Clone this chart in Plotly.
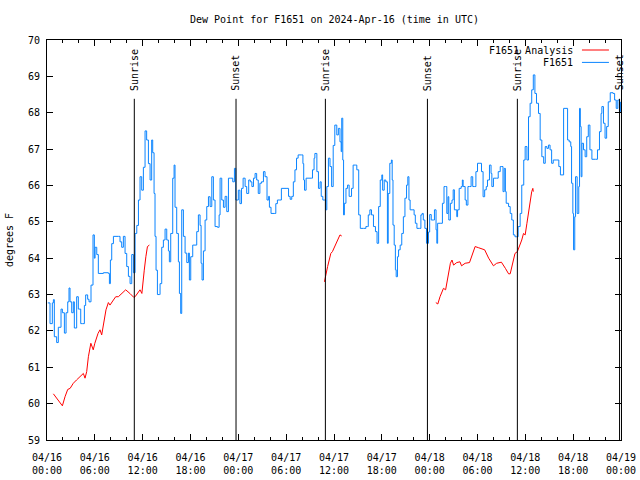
import pandas as pd
import plotly.graph_objects as go

BASE = pd.Timestamp("2024-04-16 00:00")

# Observed dew point (F1651), hours since 2024-04-16 00:00 UTC
obs_hours = [0.1, 0.38, 0.67, 0.8, 0.92, 1.21, 1.42, 1.76, 1.93, 2.18, 2.39, 2.6, 2.76, 2.89, 3.1, 3.3,
             3.43, 3.72, 3.93, 4.23, 4.44, 4.69, 4.85, 5.1, 5.27, 5.52, 5.77, 5.94, 6.03, 6.24, 6.44,
             7.07, 7.7, 7.83, 7.95, 8.12, 8.33, 8.95, 9.16, 9.37, 9.58, 9.79, 10.0, 10.21, 10.42, 10.63,
             10.84, 11.05, 11.26, 11.47, 11.67, 11.88, 12.09, 12.3, 12.5, 12.72, 12.93, 13.13, 13.26,
             13.43, 13.55, 13.68, 13.85, 14.1, 14.18, 14.39, 14.6, 14.81, 15.02, 15.23, 15.35, 15.52,
             15.77, 15.94, 16.06, 16.27, 16.48, 16.61, 16.77, 16.9, 17.11, 17.32, 17.53, 17.74, 17.86,
             18.03, 18.28, 18.57, 18.78, 18.99, 19.2, 19.33, 19.45, 19.62, 19.83, 20.04, 20.25, 20.46,
             20.67, 20.87, 21.08, 21.38, 21.59, 21.71, 21.92, 22.13, 22.34, 22.55, 22.76, 23.05, 23.3,
             23.51, 23.68, 23.8, 24.0, 24.2, 24.4, 24.6, 24.85, 25.05, 25.3, 25.5, 25.7, 25.9, 26.1,
             26.3, 26.5, 26.7, 26.9, 27.15, 27.35, 27.6, 27.8, 27.9, 28.1, 28.5, 28.7, 28.9, 29.2,
             29.4, 30.1, 30.3, 30.5, 30.7, 30.9, 31.1, 31.3, 31.5, 31.95, 32.1, 32.2, 32.3, 32.5, 33.2,
             33.3, 33.5, 33.6, 33.85, 34.05, 34.25, 34.4, 34.6, 34.8, 34.97, 35.1, 35.3, 35.5, 35.7,
             35.9, 36.1, 36.35, 36.55, 36.75, 36.9, 36.97, 37.1, 37.2, 37.3, 37.5, 37.7, 37.9, 38.2,
             38.4, 38.7, 38.86, 39.1, 39.3, 39.7, 40.0, 40.2, 40.3, 40.5, 40.7, 40.95, 41.2, 41.4,
             41.6, 41.8, 42.0, 42.1, 42.3, 42.5, 42.7, 42.8, 43.0, 43.2, 43.3, 43.4, 43.55, 43.7, 43.8,
             43.96, 44.1, 44.3, 44.5, 44.7, 44.9, 45.1, 45.26, 45.4, 45.55, 45.9, 46.05, 46.2, 46.4,
             46.7, 46.9, 47.05, 47.2, 47.4, 47.6, 47.85, 48.0, 48.2, 48.5, 48.6, 48.8, 48.9, 49.0,
             49.4, 49.6, 49.8, 50.0, 50.15, 50.3, 50.4, 50.6, 50.8, 50.95, 51.1, 51.4, 51.5, 51.7,
             51.95, 52.1, 52.2, 52.45, 52.6, 52.8, 53.0, 53.2, 53.4, 53.6, 53.8, 54.0, 54.3, 54.5,
             54.7, 54.9, 55.1, 55.25, 55.5, 55.7, 55.8, 56.0, 56.4, 56.6, 56.85, 57.05, 57.2, 57.35,
             57.5, 57.6, 57.9, 58.1, 58.3, 58.5, 58.7, 58.9, 59.1, 59.35, 59.55, 59.8, 59.98, 60.2,
             60.4, 60.6, 60.8, 61.0, 61.2, 61.4, 61.65, 61.86, 62.07, 62.3, 62.5, 62.7, 62.9, 63.1,
             63.3, 63.5, 63.95, 64.2, 64.4, 64.6, 64.8, 65.1, 65.3, 65.5, 65.7, 65.8, 65.96, 66.05,
             66.2, 66.3, 66.5, 66.7, 66.8, 66.9, 67.0, 67.1, 67.3, 67.5, 67.7, 67.9, 68.1, 68.35,
             68.8, 69.05, 69.3, 69.5, 69.6, 69.8, 70.0, 70.2, 70.4, 70.65, 71.0, 71.2, 71.4, 71.6,
             71.8, 71.95]
obs_values = [62.77, 62.2, 62.77, 62.86, 61.84, 61.68, 62.1, 62.6, 62.5, 61.94, 62.5, 62.8, 63.18, 62.8,
              62.5, 62.8, 62.08, 62.94, 62.6, 62.2, 62.2, 62.7, 62.99, 62.87, 62.8, 63.26, 64.64, 64.0,
              64.3, 64.1, 63.58, 63.6, 63.58, 63.3, 63.95, 64.4, 64.6, 64.6, 64.45, 64.3, 64.6, 64.13,
              63.77, 63.5, 63.3, 64.1, 63.6, 64.68, 64.9, 65.6, 66.24, 65.87, 66.5, 67.5, 67.25, 66.6,
              66.15, 67.25, 66.9, 65.78, 64.6, 63.67, 63.0, 63.0, 63.3, 64.3, 64.5, 64.8, 64.5, 64.2,
              63.9, 64.68, 66.2, 66.56, 65.4, 64.68, 63.9, 63.03, 62.48, 65.33, 64.6, 64.14, 63.88,
              64.14, 63.4, 64.04, 64.36, 64.36, 64.73, 65.19, 64.9, 63.86, 63.4, 64.2, 65.05, 65.42,
              65.69, 65.42, 66.24, 65.6, 64.87, 64.85, 65.19, 66.2, 65.6, 65.4, 65.7, 65.28, 66.2,
              66.2, 66.1, 66.47, 65.6, 65.6, 65.87, 65.5, 65.92, 66.2, 65.97, 65.78, 66.15, 66.1,
              65.97, 66.2, 66.33, 66.15, 65.78, 66.06, 66.1, 66.38, 66.24, 65.6, 65.7, 65.4, 65.23,
              65.23, 65.5, 65.6, 65.6, 65.92, 65.92, 65.7, 65.62, 65.7, 66.1, 66.43, 66.75, 66.84,
              66.84, 66.6, 66.15, 65.87, 66.2, 66.2, 66.43, 66.75, 66.88, 66.38, 65.92, 66.1, 65.7,
              65.6, 65.6, 65.33, 65.97, 66.75, 66.52, 65.97, 67.1, 67.66, 67.39, 67.57, 67.2, 66.93,
              67.85, 66.7, 65.19, 65.51, 65.92, 66.01, 65.7, 65.92, 66.56, 66.56, 66.43, 65.19, 64.82,
              64.82, 64.87, 64.87, 65.19, 65.33, 65.19, 64.87, 64.73, 64.41, 65.42, 66.15, 66.29,
              65.87, 66.15, 66.1, 64.41, 65.78, 66.61, 66.7, 66.15, 64.91, 64.36, 63.68, 63.49, 64.04,
              64.23, 64.36, 64.68, 65.14, 65.65, 66.01, 66.24, 65.6, 65.33, 65.33, 65.19, 64.96, 64.82,
              64.82, 65.19, 65.23, 65.05, 64.82, 64.41, 64.72, 65.2, 65.05, 65.05, 65.33, 64.78, 64.41,
              64.96, 64.96, 65.51, 65.97, 65.97, 65.23, 65.69, 65.05, 65.51, 65.6, 65.88, 65.33, 65.14,
              65.33, 65.92, 65.97, 66.15, 65.97, 65.6, 65.46, 65.97, 65.97, 66.24, 65.97, 65.97, 66.38,
              66.61, 66.61, 66.38, 65.69, 65.88, 65.97, 66.15, 66.56, 66.33, 65.97, 66.2, 66.2, 66.38,
              66.52, 66.52, 65.83, 66.47, 65.83, 65.51, 65.42, 65.23, 65.05, 64.64, 64.59, 64.59,
              64.87, 65.23, 66.01, 66.7, 67.07, 66.7, 67.89, 68.26, 68.63, 69.04, 68.53, 68.26, 67.98,
              67.25, 66.79, 66.61, 67.07, 67.02, 67.11, 66.98, 66.61, 66.7, 66.7, 66.52, 66.29, 66.29,
              68.12, 68.12, 67.25, 67.2, 67.07, 66.06, 65.23, 64.23, 65.14, 66.24, 65.23, 65.97, 68.12,
              67.62, 66.24, 67.16, 66.98, 66.79, 67.34, 67.66, 66.98, 66.72, 66.72, 66.98, 67.48,
              67.98, 68.17, 67.71, 67.3, 67.62, 68.3, 68.55, 68.53, 68.35, 68.12, 68.35, 68.03, 68.3]

# Analysis (F1651 Analysis), three separate runs
ana_hours_1 = [0.8, 1.93, 2.26, 2.6, 2.9, 3.3, 3.7, 4.14, 4.56, 4.77, 4.98, 5.19, 5.5, 5.8, 6.0, 6.4,
               6.65, 6.86, 7.07, 7.4, 7.7, 7.9, 8.33, 8.62, 8.95, 9.37, 9.87, 10.4, 10.9, 11.05, 11.47,
               11.67, 11.9, 12.0, 12.2, 12.4, 12.6, 12.84]
ana_values_1 = [60.27, 59.94, 60.19, 60.39, 60.42, 60.56, 60.65, 60.74, 60.83, 60.7, 60.88, 61.29, 61.66,
                61.48, 61.66, 61.93, 62.03, 61.89, 62.21, 62.58, 62.78, 62.71, 62.85, 62.94, 62.94, 63.03,
                63.13, 63.03, 62.92, 62.94, 63.08, 63.13, 63.03, 63.3, 63.67, 64.04, 64.32, 64.36]
ana_hours_2 = [34.8, 34.97, 35.2, 35.4, 35.6, 35.8, 36.1, 36.35, 36.55, 36.75, 36.97]
ana_values_2 = [63.35, 63.58, 63.77, 63.95, 64.13, 64.18, 64.32, 64.41, 64.5, 64.64, 64.61]
ana_hours_3 = [48.77, 49.02, 49.3, 49.73, 50.0, 50.3, 50.6, 50.8, 51.0, 51.4, 51.8, 52.0, 52.45, 53.0,
               53.3, 53.7, 54.1, 54.9, 55.4, 56.0, 56.4, 57.0, 57.5, 57.9, 58.1, 58.4, 58.7, 59.0, 59.35,
               59.55, 59.77, 59.98, 60.2, 60.4, 60.6, 60.8, 60.94, 61.0]
ana_values_3 = [62.78, 62.74, 62.94, 63.17, 63.13, 63.49, 63.86, 63.95, 63.81, 63.88, 63.9, 63.79, 63.86,
                63.88, 64.09, 64.32, 64.29, 64.23, 64.0, 63.79, 63.86, 63.89, 63.72, 63.57, 63.57, 63.86,
                64.13, 64.18, 64.36, 64.5, 64.68, 64.64, 64.96, 65.28, 65.55, 65.83, 65.92, 65.83]

# Sunrise / sunset markers (hours since start)
sun_hours = [10.95, 23.71, 34.92, 47.72, 59.0, 71.82]
sun_labels = ["Sunrise", "Sunset", "Sunrise", "Sunset", "Sunrise", "Sunset"]

# Axis ticks
x_tick_hours = [0, 6, 12, 18, 24, 30, 36, 42, 48, 54, 60, 66, 72]
x_tick_text = ["04/16<br>00:00", "04/16<br>06:00", "04/16<br>12:00", "04/16<br>18:00",
               "04/17<br>00:00", "04/17<br>06:00", "04/17<br>12:00", "04/17<br>18:00",
               "04/18<br>00:00", "04/18<br>06:00", "04/18<br>12:00", "04/18<br>18:00",
               "04/19<br>00:00"]
y_ticks = [59, 60, 61, 62, 63, 64, 65, 66, 67, 68, 69, 70]

TITLE = "Dew Point for F1651 on 2024-Apr-16 (time in UTC)"
Y_TITLE = "degrees F"
LEG_NAMES = ["F1651 Analysis", "F1651"]
RED = "#ff0000"
BLUE = "#0a84ff"
FONT = "DejaVu Sans Mono"


def to_time(hours):
    return [BASE + pd.Timedelta(hours=h) for h in hours]


fig = go.Figure()
fig.add_trace(go.Scatter(x=to_time(obs_hours), y=obs_values, mode="lines",
                         line=dict(color=BLUE, width=1, shape="hv"), name=LEG_NAMES[1],
                         showlegend=False))
for hh, vv in [(ana_hours_1, ana_values_1), (ana_hours_2, ana_values_2), (ana_hours_3, ana_values_3)]:
    fig.add_trace(go.Scatter(x=to_time(hh), y=vv, mode="lines",
                             line=dict(color=RED, width=1), name=LEG_NAMES[0], showlegend=False))

for h, lab in zip(sun_hours, sun_labels):
    t = BASE + pd.Timedelta(hours=h)
    fig.add_shape(type="line", xref="x", yref="paper", x0=t, x1=t, y0=0, y1=0.853,
                  line=dict(color="black", width=1))
    fig.add_annotation(x=t, xref="x", y=0.868, yref="paper", text=lab, textangle=-90,
                       showarrow=False, xanchor="center", yanchor="bottom",
                       font=dict(family=FONT, size=10, color="black"))

# custom legend (text left, sample line right), like gnuplot
for i, (name, col) in enumerate(zip(LEG_NAMES, [RED, BLUE])):
    yy = 0.975 - i * 0.031
    fig.add_annotation(x=0.920, xref="paper", y=yy, yref="paper", text=name, showarrow=False,
                       xanchor="right", yanchor="middle",
                       font=dict(family=FONT, size=10, color="black"))
    fig.add_shape(type="line", xref="paper", yref="paper", x0=0.932, x1=0.979, y0=yy, y1=yy,
                  line=dict(color=col, width=1))

fig.add_annotation(x=0.5, xref="paper", y=1.05, yref="paper", text=TITLE, showarrow=False,
                   xanchor="center", yanchor="middle", font=dict(family=FONT, size=10, color="black"))
fig.add_annotation(x=-0.066, xref="paper", y=0.5, yref="paper", text=Y_TITLE, showarrow=False,
                   textangle=-90, xanchor="center", yanchor="middle",
                   font=dict(family=FONT, size=10, color="black"))

fig.update_layout(
    width=640, height=480,
    margin=dict(l=47, r=19, t=40, b=40, autoexpand=False),
    paper_bgcolor="white", plot_bgcolor="white",
    font=dict(family=FONT, size=10, color="black"),
    showlegend=False,
    hovermode=False,
    xaxis=dict(
        range=[BASE, BASE + pd.Timedelta(hours=72)],
        tickvals=to_time(x_tick_hours), ticktext=x_tick_text,
        ticks="inside", ticklen=6, tickcolor="black", tickwidth=1,
        mirror="allticks", showline=True, linecolor="black", linewidth=1,
        showgrid=False, zeroline=False, ticklabelstandoff=8,
        minor=dict(dtick=2 * 3600 * 1000, ticks="inside", ticklen=3, tickcolor="black",
                   showgrid=False),
    ),
    yaxis=dict(
        range=[59, 70], tickvals=y_ticks,
        ticks="inside", ticklen=6, tickcolor="black", tickwidth=1,
        mirror="allticks", showline=True, linecolor="black", linewidth=1,
        showgrid=False, zeroline=False, ticklabelstandoff=4,
    ),
)

fig.write_html("out.html", config={"displayModeBar": False},
               post_script="document.body.style.margin='0';")
